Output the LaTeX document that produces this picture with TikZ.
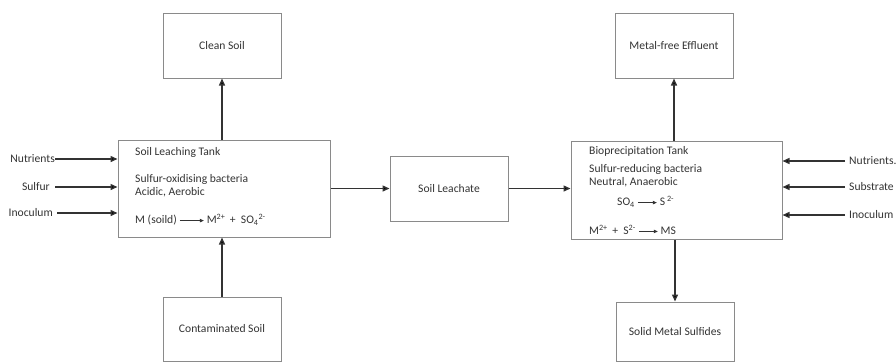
\documentclass[tikz,border=0pt]{standalone}
\usepackage{fontspec}
\setmainfont{Carlito}
\usetikzlibrary{arrows.meta}
\definecolor{ink}{HTML}{333333}
\definecolor{boxline}{HTML}{8A8A8A}
\newcommand\chemarr[1]{\tikz[baseline=-0.6ex]\draw[ink,line width=0.7pt,-{Triangle[length=4pt,width=3.5pt]}] (0pt,0pt) -- (#1,0pt);}
\begin{document}
\begin{tikzpicture}[x=1pt,y=-1pt,
  box/.style={draw=boxline, line width=1pt, inner sep=0pt, text=ink, font=\fontsize{11.6}{13}\selectfont},
  lbl/.style={inner sep=0pt, text=ink, font=\fontsize{11.6}{13}\selectfont},
  flow/.style={draw=ink, line width=1.4pt, -{Triangle[length=7pt,width=6pt]}}
]
\useasboundingbox (0,0) rectangle (896,362);
% boxes
\node[box, minimum width=118pt, minimum height=65pt] (clean) at (222,45.5) {Clean Soil};
\node[box, minimum width=118pt, minimum height=64pt] (cont) at (222,329) {Contaminated Soil};
\node[box, minimum width=118pt, minimum height=65pt] (metal) at (674,45.5) {Metal-free Effluent};
\node[box, minimum width=118pt, minimum height=59pt] (solid) at (675,331.5) {Solid Metal Sulfides};
\node[box, minimum width=212pt, minimum height=97pt] (tank) at (224,188.5) {};
\node[box, minimum width=118pt, minimum height=65pt] (leach) at (449,188.5) {Soil Leachate};
\node[box, minimum width=211pt, minimum height=98pt] (bio) at (676.5,190) {};
% tank texts
\node[lbl, anchor=west] (t1) at (135,152) {Soil Leaching Tank};
\node[lbl, anchor=west] (t2) at (135,179) {Sulfur-oxidising bacteria};
\node[lbl, anchor=west] (t3) at (135,192) {Acidic, Aerobic};
\node[lbl, anchor=west] (t4) at (135,220) {M (soild) \chemarr{24pt} M\textsuperscript{2+}\, +\ \ SO\textsubscript{4}\textsuperscript{2-}};
\node[lbl, anchor=west] (b1) at (589,151) {Bioprecipitation Tank};
\node[lbl, anchor=west] (b2) at (589,169) {Sulfur-reducing bacteria};
\node[lbl, anchor=west] (b3) at (589,182) {Neutral, Anaerobic};
\node[lbl, anchor=west] (b4) at (617,202) {SO\textsubscript{4} \chemarr{19pt} S\,\textsuperscript{2-}};
\node[lbl, anchor=west] (b5) at (589,230) {M\textsuperscript{2+}\, +\ \ S\textsuperscript{2-} \chemarr{19pt} MS};
% main flows
\draw[flow] (clean.south |- tank.north) -- (clean.south);
\draw[flow] (cont.north) -- (cont.north |- tank.south);
\draw[flow] (tank.east |- leach.west) -- (leach.west);
\draw[flow] (leach.east) -- (leach.east -| bio.west);
\draw[flow] (metal.south |- bio.north) -- (metal.south);
\draw[flow] (solid.north |- bio.south) -- (solid.north);
% left inputs
\node[lbl, anchor=east] (inN) at (55,159) {Nutrients};
\node[lbl, anchor=east] (inS) at (50,187) {Sulfur};
\node[lbl, anchor=east] (inI) at (53,213) {Inoculum};
\draw[flow] (inN.east) -- (inN.east -| tank.west);
\draw[flow, shorten <=5pt] (inS.east) -- (inS.east -| tank.west);
\draw[flow, shorten <=4pt] (inI.east) -- (inI.east -| tank.west);
% right inputs
\node[lbl, anchor=west] (rN) at (849,161) {Nutrients.};
\node[lbl, anchor=west] (rS) at (849,187) {Substrate};
\node[lbl, anchor=west] (rI) at (849,215) {Inoculum};
\draw[flow, shorten <=4pt] (rN.west) -- (rN.west -| bio.east);
\draw[flow, shorten <=4pt] (rS.west) -- (rS.west -| bio.east);
\draw[flow, shorten <=4pt] (rI.west) -- (rI.west -| bio.east);
\end{tikzpicture}
\end{document}
